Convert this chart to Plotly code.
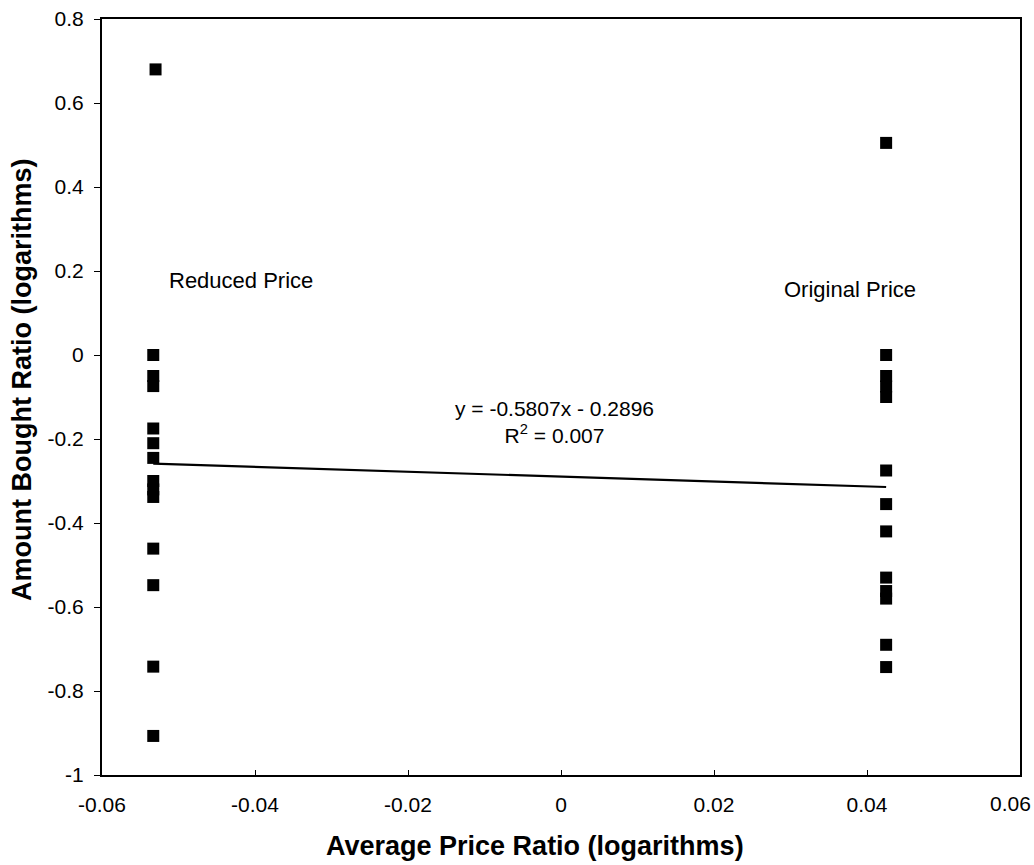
import plotly.graph_objects as go

# Data
reduced_x = [-0.0530, -0.0533, -0.0533, -0.0533, -0.0533, -0.0533, -0.0533,
             -0.0533, -0.0533, -0.0533, -0.0533, -0.0533, -0.0533, -0.0533]
reduced_y = [0.680, 0.0, -0.050, -0.074, -0.175, -0.210, -0.245,
             -0.300, -0.320, -0.338, -0.461, -0.548, -0.742, -0.907]
original_x = [0.0425] * 13
original_y = [0.505, 0.0, -0.050, -0.075, -0.100, -0.275, -0.355,
              -0.420, -0.530, -0.562, -0.580, -0.690, -0.743]

slope = -0.5807
intercept = -0.2896
r_squared = 0.007

x_tickvals = [-0.06, -0.04, -0.02, 0, 0.02, 0.04, 0.06]
x_ticktext = ["-0.06", "-0.04", "-0.02", "0", "0.02", "0.04", "0.06"]
y_tickvals = [0.8, 0.6, 0.4, 0.2, 0, -0.2, -0.4, -0.6, -0.8, -1]
y_ticktext = ["0.8", "0.6", "0.4", "0.2", "0", "-0.2", "-0.4", "-0.6", "-0.8", "-1"]

all_x = reduced_x + original_x
all_y = reduced_y + original_y
line_x = [min(all_x), max(all_x)]
line_y = [slope * v + intercept for v in line_x]

FONT = "Liberation Sans, Arial, sans-serif"
TICK_SIZE = 21
W, H = 1034, 865
ML, MR, MT, MB = 102, 14, 19, 90

fig = go.Figure()
fig.add_trace(go.Scatter(
    x=all_x, y=all_y, mode="markers",
    marker=dict(symbol="square", size=12, color="black"),
    showlegend=False, name="Data"))
fig.add_trace(go.Scatter(
    x=line_x, y=line_y, mode="lines",
    line=dict(color="black", width=2.2),
    showlegend=False, name="Linear fit"))

fig.add_annotation(x=-0.0418, y=0.178, xref="x", yref="y", text="Reduced Price",
                   showarrow=False, font=dict(family=FONT, size=22, color="black"))
fig.add_annotation(x=0.0378, y=0.155, xref="x", yref="y", text="Original Price",
                   showarrow=False, font=dict(family=FONT, size=22, color="black"))
fig.add_annotation(x=-0.0008, y=-0.1607, xref="x", yref="y",
                   text=f"y = {slope}x - {abs(intercept)}<br>R<sup>2</sup> = {r_squared}",
                   showarrow=False, align="center",
                   font=dict(family=FONT, size=21, color="black"))

# last x tick label drawn nudged left so it stays inside the page (as in the reference)
fig.add_annotation(x=1, y=0, xref="paper", yref="paper", text=x_ticktext[-1],
                   xanchor="center", yanchor="middle", xshift=-10, yshift=-28,
                   showarrow=False, font=dict(family=FONT, size=TICK_SIZE, color="black"))

# axis titles (positioned as in the reference)
plot_w = W - ML - MR
plot_h = H - MT - MB
fig.add_annotation(x=(535 - ML) / plot_w, y=0, xref="paper", yref="paper",
                   text="<b>Average Price Ratio (logarithms)</b>",
                   showarrow=False, xanchor="center", yanchor="middle", yshift=-71,
                   font=dict(family=FONT, size=27, color="black"))
fig.add_annotation(x=0, y=(H - MB - 380) / plot_h, xref="paper", yref="paper",
                   text="<b>Amount Bought Ratio (logarithms)</b>", textangle=-90,
                   showarrow=False, xanchor="center", yanchor="middle", xshift=-80,
                   font=dict(family=FONT, size=27, color="black"))

fig.update_layout(
    width=W, height=H,
    margin=dict(l=ML, r=MR, t=MT, b=MB),
    plot_bgcolor="white", paper_bgcolor="white",
    font=dict(family=FONT, color="black"),
    xaxis=dict(
        range=[-0.06, 0.06], tickvals=x_tickvals[:-1], ticktext=x_ticktext[:-1],
        showgrid=False, zeroline=False, showline=True, linecolor="black",
        linewidth=2, mirror=True, ticks="inside", ticklen=5, tickcolor="black",
        tickfont=dict(family=FONT, size=TICK_SIZE), ticklabelstandoff=10,
        automargin=False),
    yaxis=dict(
        range=[-1, 0.8], tickvals=y_tickvals, ticktext=y_ticktext,
        showgrid=False, zeroline=False, showline=True, linecolor="black",
        linewidth=2, mirror=True, ticks="outside", ticklen=6, tickcolor="black",
        tickfont=dict(family=FONT, size=TICK_SIZE), ticklabelstandoff=6,
        automargin=False),
)

fig.write_html("out.html")
